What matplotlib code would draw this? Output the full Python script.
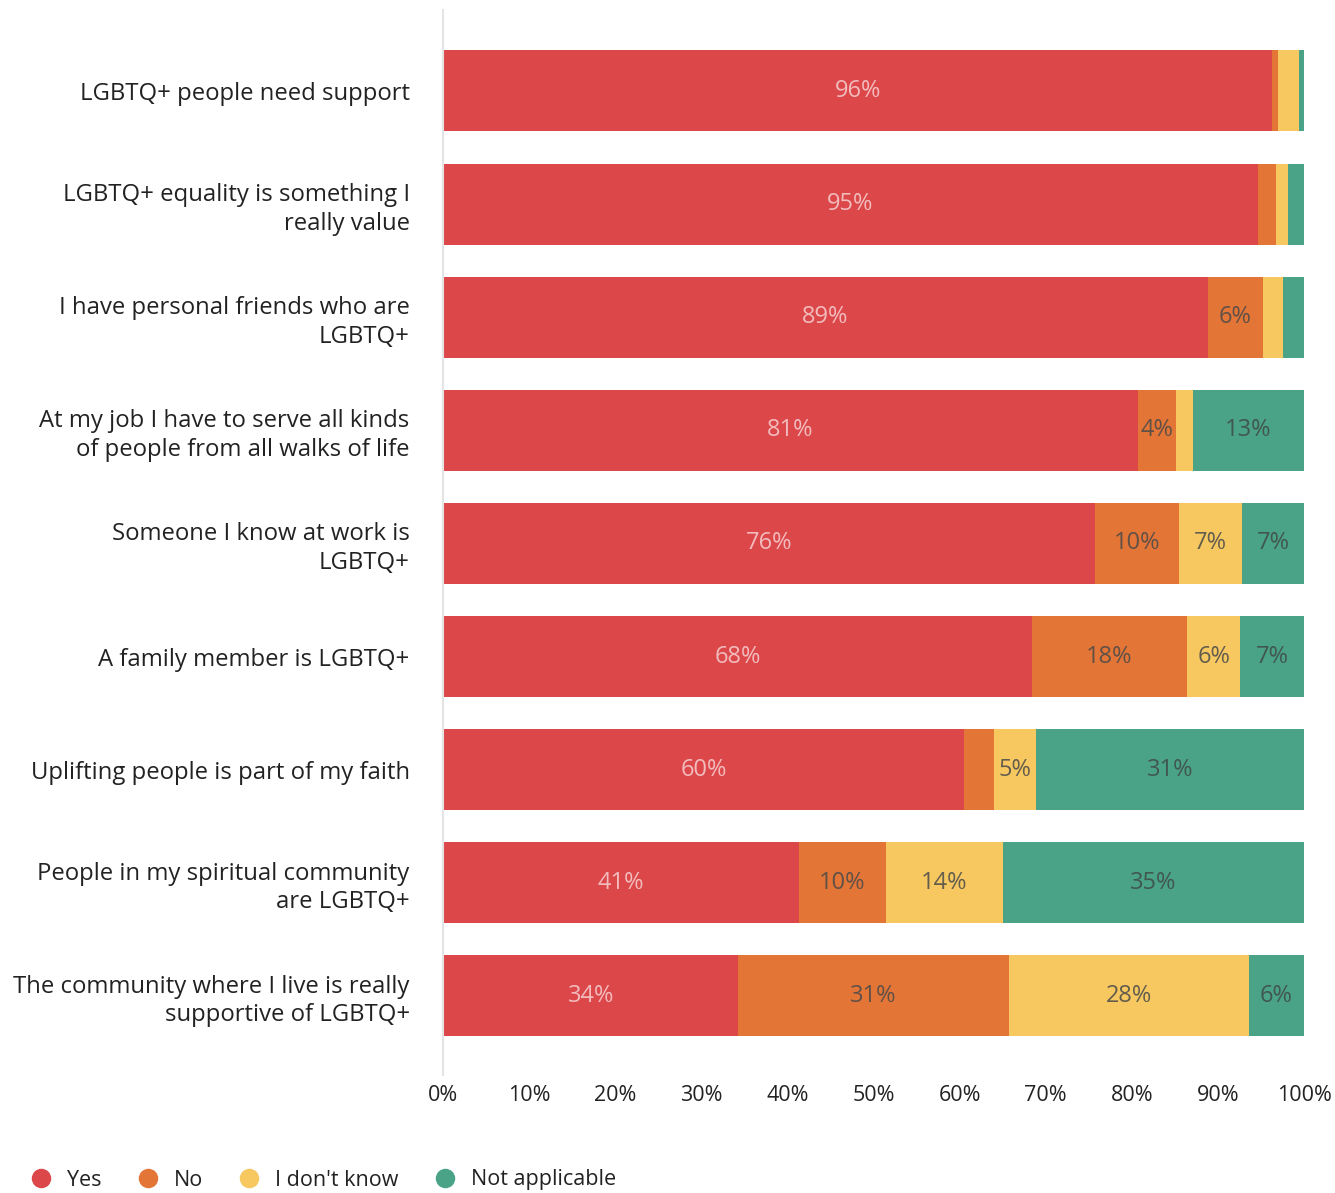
import numpy as np
from matplotlib import pyplot as plt
from matplotlib.lines import Line2D

plt.rcParams['font.family'] = ['Open Sans', 'DejaVu Sans']

categories = [
    'LGBTQ+ people need support',
    'LGBTQ+ equality is something I\nreally value',
    'I have personal friends who are\nLGBTQ+',
    'At my job I have to serve all kinds\nof people from all walks of life',
    'Someone I know at work is\nLGBTQ+',
    'A family member is LGBTQ+',
    'Uplifting people is part of my faith',
    'People in my spiritual community\nare LGBTQ+',
    'The community where I live is really\nsupportive of LGBTQ+',
]
yes = [96.3, 94.6, 88.8, 80.7, 75.7, 68.4, 60.5, 41.4, 34.3]
no = [0.7, 2.1, 6.4, 4.4, 9.8, 18.0, 3.5, 10.0, 31.4]
dont_know = [2.4, 1.4, 2.4, 2.0, 7.3, 6.2, 4.9, 13.6, 27.9]
not_applicable = [0.6, 1.9, 2.4, 12.9, 7.2, 7.4, 31.1, 35.0, 6.4]

series_names = ['Yes', 'No', "I don't know", 'Not applicable']
series_values = [yes, no, dont_know, not_applicable]
colors = ['#dc474a', '#e37536', '#f6c85f', '#4ba387']
label_colors = ['#f6d0d1', '#4a4a4a', '#4a4a4a', '#3f4a45']

fig = plt.figure(figsize=(13.35, 11.93), dpi=100)
ax = fig.add_axes([443 / 1335, 1 - 1075 / 1193, 861 / 1335, 1065 / 1193])

y = np.arange(len(categories))
left = np.zeros(len(categories))
for name, vals, color, lcolor in zip(series_names, series_values, colors, label_colors):
    vals = np.array(vals)
    ax.barh(y, vals, left=left, height=0.716, color=color, label=name)
    for yi, (l, v) in enumerate(zip(left, vals)):
        if v >= 4:
            ax.text(l + v / 2, yi, f"{int(round(v))}%", ha='center', va='center',
                    fontsize=17, color=lcolor, alpha=0.85)
    left += vals

ax.set_xlim(0, 100)
ax.set_ylim(len(categories) - 1 + 0.70, -0.716)
ax.set_xticks(np.arange(0, 101, 10))
ax.set_xticklabels([f"{t}%" for t in range(0, 101, 10)], fontsize=15.5, color='#222222')
ax.set_yticks(y)
ax.set_yticklabels(categories, fontsize=17.2, color='#222222', linespacing=1.25)
ax.tick_params(axis='both', length=0)
ax.tick_params(axis='x', pad=7)
ax.tick_params(axis='y', pad=24)
for side in ['top', 'right', 'bottom']:
    ax.spines[side].set_visible(False)
ax.spines['left'].set_color('#e4e4e4')
ax.spines['left'].set_linewidth(1.5)

handles = [Line2D([0], [0], marker='o', linestyle='', markersize=13, color=c)
           for c in colors]
fig.legend(handles, series_names, loc='center left', bbox_to_anchor=(0.023, 1 - 1180 / 1193),
           ncol=4, frameon=False, fontsize=15.5, handlelength=1.0, handletextpad=0.7,
           columnspacing=1.65, borderpad=0, borderaxespad=0, labelcolor='#222222')

fig.savefig('out.png', dpi=100)
